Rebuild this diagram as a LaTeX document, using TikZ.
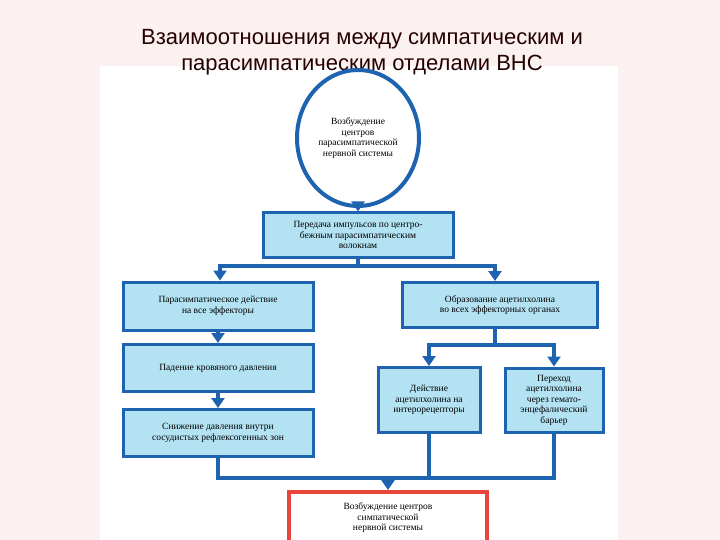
\documentclass[tikz,border=0pt]{standalone}
\usepackage{fontspec}
\setmainfont{Liberation Serif}
\newfontfamily\titlefont{Liberation Sans}
\usetikzlibrary{arrows.meta,shapes.geometric}
\definecolor{bg}{HTML}{FCF1F1}
\definecolor{ln}{HTML}{1E63B0}
\definecolor{fl}{HTML}{B3E2F2}
\definecolor{rd}{HTML}{E8453C}
\begin{document}
\begin{tikzpicture}[x=1pt,y=-1pt,
 box/.style={draw=ln,line width=3pt,fill=fl,align=center,font=\fontsize{9.5}{10.5}\selectfont,inner sep=2pt},
 con/.style={draw=ln,line width=3.5pt},
 arr/.style={con,-{Triangle[length=10pt,width=13pt]}}]
\useasboundingbox (0,0) rectangle (720,540);
\fill[bg] (0,0) rectangle (720,540);
\fill[white] (100,66) rectangle (618,540);
\node[font=\titlefont\fontsize{22}{26}\selectfont,text=black!85!red,align=center] (title) at (362,52) {Взаимоотношения между симпатическим и\\парасимпатическим отделами ВНС};
\node[ellipse,draw=ln,line width=4pt,fill=white,minimum width=122pt,minimum height=136pt,align=center,font=\fontsize{9.5}{10.5}\selectfont] (c) at (358,138) {Возбуждение\\центров\\парасимпатической\\нервной системы};
\node[box,minimum width=190pt,minimum height=44pt] (b1) at (358,235) {Передача импульсов по центро-\\бежным парасимпатическим\\волокнам};
\node[box,minimum width=190pt,minimum height=48pt] (l1) at (218,306) {Парасимпатическое действие\\на все эффекторы};
\node[box,minimum width=195pt,minimum height=45pt] (r1) at (500,305) {Образование ацетилхолина\\во всех эффекторных органах};
\node[box,minimum width=190pt,minimum height=47pt] (l2) at (218,368) {Падение кровяного давления};
\node[box,minimum width=102pt,minimum height=65pt] (r2) at (429,400) {Действие\\ацетилхолина на\\интерорецепторы};
\node[box,minimum width=98pt,minimum height=64pt] (r3) at (554,400) {Переход\\ацетилхолина\\через гемато-\\энцефалический\\барьер};
\node[box,minimum width=190pt,minimum height=47pt] (l3) at (218,433) {Снижение давления внутри\\сосудистых рефлексогенных зон};
\node[draw=rd,line width=4pt,fill=white,minimum width=198pt,minimum height=52pt,align=center,font=\fontsize{9.5}{10.5}\selectfont] (f) at (388,518) {Возбуждение центров\\симпатической\\нервной системы};
\coordinate (s1) at (358,266);
\coordinate (s2) at (495,345);
\coordinate (m) at (388,478);
\draw[arr] (c) -- (b1);
\draw[con] (b1.south) -- (s1);
\draw[arr] (s1) -| ([xshift=2pt]l1.north);
\draw[arr] (s1) -| ([xshift=-5pt]r1.north);
\draw[arr] (l1) -- (l2);
\draw[arr] (l2) -- (l3);
\draw[con] ([xshift=-5pt]r1.south) -- (s2);
\draw[arr] (s2) -| (r2.north);
\draw[arr] (s2) -| (r3.north);
\draw[con] (l3.south) |- (m);
\draw[con] (r2.south) |- (m);
\draw[con] (r3.south) |- (m);
\draw[arr] (m) -- (f.north);
\end{tikzpicture}
\end{document}
